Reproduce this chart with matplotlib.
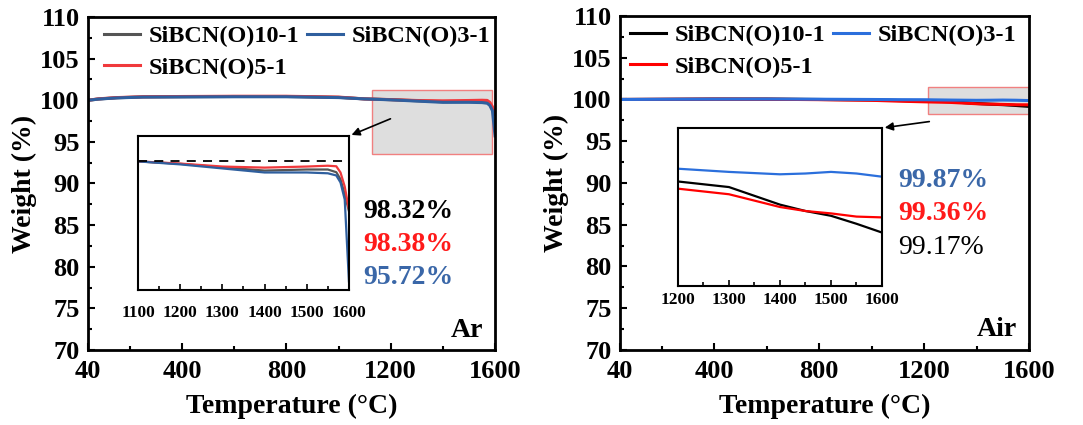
import matplotlib.pyplot as plt
from matplotlib.patches import Rectangle
from matplotlib.ticker import MultipleLocator

plt.rcParams['font.family'] = ['Liberation Serif', 'DejaVu Serif']
plt.rcParams['font.weight'] = 'bold'

# ---- Ar data (temperature in C, weight in %) ----
ar_temp = [40, 80, 150, 250, 400, 600, 800, 1000, 1100, 1200, 1300, 1400, 1500,
           1550, 1570, 1580, 1590, 1600]
ar_10_1 = [100.0, 100.15, 100.3, 100.4, 100.42, 100.45, 100.45, 100.35, 100.16, 100.07,
           99.94, 99.82, 99.86, 99.86, 99.76, 99.5, 98.94, 98.32]
ar_5_1 = [100.0, 100.17, 100.32, 100.42, 100.45, 100.48, 100.48, 100.38, 100.16, 100.08,
          99.97, 99.93, 99.97, 100.0, 99.98, 99.75, 99.23, 98.38]
ar_3_1 = [100.0, 100.14, 100.28, 100.38, 100.4, 100.42, 100.42, 100.32, 100.16, 100.05,
          99.9, 99.75, 99.75, 99.72, 99.64, 99.38, 98.75, 95.72]
ar_final = ['98.32%', '98.38%', '95.72%']

# ---- Air data ----
air_temp = [40, 200, 400, 600, 800, 1000, 1100, 1200, 1300, 1400, 1450, 1500, 1550, 1600]
air_10_1 = [100.0, 100.02, 100.05, 100.05, 100.0, 99.95, 99.88, 99.81, 99.74, 99.52, 99.44,
            99.38, 99.28, 99.17]
air_5_1 = [100.0, 100.02, 100.04, 100.03, 99.98, 99.9, 99.8, 99.72, 99.65, 99.49, 99.44,
           99.41, 99.37, 99.36]
air_3_1 = [100.0, 100.02, 100.04, 100.05, 100.03, 100.0, 99.98, 99.97, 99.93, 99.9, 99.91,
           99.93, 99.91, 99.87]
air_final = ['99.87%', '99.36%', '99.17%']

fig = plt.figure(figsize=(10.83, 4.25), dpi=100)


def style_main(ax, label):
    ax.set_xlim(40, 1600)
    ax.set_ylim(70, 110)
    ax.set_xticks([40, 400, 800, 1200, 1600])
    ax.xaxis.set_minor_locator(plt.FixedLocator([200, 600, 1000, 1400]))
    ax.yaxis.set_major_locator(MultipleLocator(5))
    ax.yaxis.set_minor_locator(MultipleLocator(2.5))
    ax.tick_params(which='both', direction='in', width=1.5, labelsize=19)
    ax.tick_params(which='major', length=5)
    ax.tick_params(which='minor', length=3)
    ax.tick_params(axis='x', pad=7)
    ax.tick_params(axis='y', pad=6)
    for s in ax.spines.values():
        s.set_linewidth(2)
    ax.set_xlabel('Temperature (\u00b0C)', fontsize=20, fontweight='bold', labelpad=8)
    ax.set_ylabel('Weight (%)', fontsize=20, fontweight='bold', labelpad=2)
    ax.text(0.97, 0.06, label, transform=ax.transAxes, ha='right', va='center',
            fontsize=20, fontweight='bold')


def style_inset(ax, x0, x1, step, pad):
    ax.set_xlim(x0, x1)
    ax.set_xticks(range(x0, x1 + 1, step))
    ax.xaxis.set_minor_locator(MultipleLocator(step / 2))
    ax.set_yticks([])
    ax.tick_params(which='both', direction='in', width=1.2, labelsize=12.5, pad=pad)
    ax.tick_params(which='major', length=4)
    ax.tick_params(which='minor', length=3)
    for s in ax.spines.values():
        s.set_linewidth(1.5)


leg_kw = dict(ncol=2, loc='upper left', frameon=False, fontsize=17.5, handlelength=1.5,
              columnspacing=0.33, handletextpad=0.33, labelspacing=0.4, borderaxespad=0.0)

# ================= Ar panel =================
ax1 = fig.add_axes([0.0813, 0.1765, 0.3758, 0.7835])
c_ar = {'10': '#555555', '5': '#f0393c', '3': '#2f5f9e'}
ax1.plot(ar_temp, ar_10_1, color=c_ar['10'], lw=2.2, label='SiBCN(O)10-1')
ax1.plot(ar_temp, ar_5_1, color=c_ar['5'], lw=2.2, label='SiBCN(O)5-1')
ax1.plot(ar_temp, ar_3_1, color=c_ar['3'], lw=2.2, label='SiBCN(O)3-1')
style_main(ax1, 'Ar')
ax1.add_patch(Rectangle((1130, 93.5), 460, 7.7, facecolor='#dedede', edgecolor='#f08080',
                        lw=1, zorder=0))
ax1.legend(bbox_to_anchor=(0.015, 1.005), **leg_kw)

in1 = fig.add_axes([0.1274, 0.3176, 0.1948, 0.3624])
in1.plot(ar_temp, ar_10_1, color=c_ar['10'], lw=1.6)
in1.plot(ar_temp, ar_5_1, color=c_ar['5'], lw=1.6)
in1.plot(ar_temp, ar_3_1, color=c_ar['3'], lw=1.6)
in1.axhline(ar_3_1[8], color='k', lw=1.3, ls=(0, (5, 4)))
in1.set_ylim(95.4, 101.1)
style_inset(in1, 1100, 1600, 100, 11)
ax1.annotate('', xy=(1, 1), xycoords=in1.transAxes, xytext=(1209, 97.9),
             textcoords='data', arrowprops=dict(arrowstyle='-|>', color='k', lw=1.2,
                                                mutation_scale=12))

ar_colors = ['black', '#ff1a1a', '#3a67a8']
for i, (txt, col) in enumerate(zip(ar_final, ar_colors)):
    ax1.text(363 / 1083, 1 - (211 + 33.5 * i) / 425, txt, transform=fig.transFigure,
             color=col, fontsize=20, fontweight='bold', va='center', ha='left')

# ================= Air panel =================
ax2 = fig.add_axes([0.5725, 0.1765, 0.3777, 0.7859])
c_air = {'10': 'black', '5': '#ff0000', '3': '#2b6fdc'}
ax2.plot(air_temp, air_10_1, color=c_air['10'], lw=2.2, label='SiBCN(O)10-1')
ax2.plot(air_temp, air_5_1, color=c_air['5'], lw=2.2, label='SiBCN(O)5-1')
ax2.plot(air_temp, air_3_1, color=c_air['3'], lw=2.2, label='SiBCN(O)3-1')
style_main(ax2, 'Air')
ax2.add_patch(Rectangle((1215, 98.3), 385, 3.2, facecolor='#dedede', edgecolor='#f08080',
                        lw=1, zorder=0))
ax2.legend(bbox_to_anchor=(0.0, 1.005), **leg_kw)

in2 = fig.add_axes([0.626, 0.327, 0.1884, 0.3718])
in2.plot(air_temp, air_10_1, color=c_air['10'], lw=1.6)
in2.plot(air_temp, air_5_1, color=c_air['5'], lw=1.6)
in2.plot(air_temp, air_3_1, color=c_air['3'], lw=1.6)
in2.set_ylim(98.5, 100.48)
style_inset(in2, 1200, 1600, 100, 4)
ax2.annotate('', xy=(1, 1), xycoords=in2.transAxes, xytext=(1230, 97.4),
             textcoords='data', arrowprops=dict(arrowstyle='-|>', color='k', lw=1.2,
                                                mutation_scale=12))

air_colors = ['#3a67a8', '#ff1a1a', 'black']
air_weights = ['bold', 'bold', 'normal']
for i, (txt, col, w) in enumerate(zip(air_final, air_colors, air_weights)):
    ax2.text(898 / 1083, 1 - (180 + 34 * i) / 425, txt, transform=fig.transFigure,
             color=col, fontsize=20, fontweight=w, va='center', ha='left')

fig.savefig('out.png', dpi=100)
